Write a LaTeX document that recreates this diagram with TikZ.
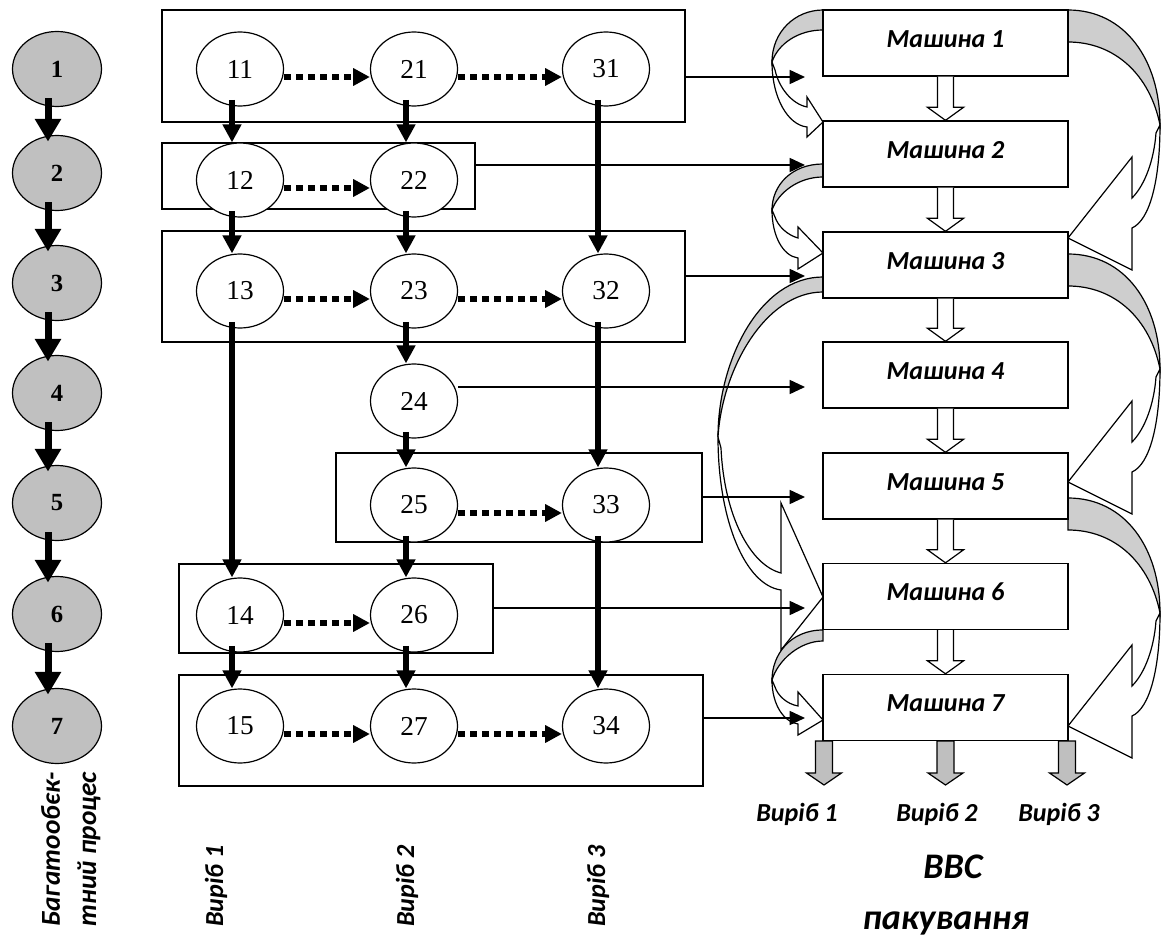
\documentclass[tikz,border=0pt]{standalone}
\usepackage{fontspec}
\setmainfont{Liberation Serif}
\newfontfamily\calfont{Carlito}
\usetikzlibrary{arrows.meta,shapes.geometric,calc}
\definecolor{ellgray}{RGB}{192,192,192}
\definecolor{bandgray}{RGB}{206,206,206}
\definecolor{outgray}{RGB}{191,191,191}
\newcommand\hollowdown[2]{\draw[hollow] ([xshift=-6pt]#1.south) -- ([xshift=-6pt,yshift=9.75pt]#2.north) -- ([xshift=-13.5pt,yshift=9.75pt]#2.north) -- (#2.north) -- ([xshift=13.5pt,yshift=9.75pt]#2.north) -- ([xshift=6pt,yshift=9.75pt]#2.north) -- ([xshift=6pt]#1.south);}
\newcommand\outarrow[1]{\draw[outar] (#1) -- ++(-17.5,-12) -- ++(9,0) -- ++(0,-32) -- ++(17,0) -- ++(0,32) -- ++(9,0) -- cycle;}
\newcommand\rightcurve[1]{%
\begin{scope}[shift={(0,#1)}]
\path[band] (1160,125) .. controls (1160,180) and (1150,220) .. (1132,228) -- (1132,270) -- (1068,238) -- (1132,157) -- (1132,198) .. controls (1145,185) and (1154,160) .. (1156,133) -- cycle;
\path[shade] (1068,10) .. controls (1125,10) and (1160,60) .. (1160,125) .. controls (1150,75) and (1115,42) .. (1068,42) -- cycle;
\end{scope}}
\begin{document}
\begin{tikzpicture}[x=0.75pt,y=-0.75pt,
  gell/.style={ellipse, draw, line width=0.9pt, fill=ellgray, minimum width=66.75pt, minimum height=56.25pt, inner sep=0pt, font=\fontsize{18.5}{18.5}\selectfont\bfseries},
  wel/.style={ellipse, draw, line width=0.9pt, fill=white, minimum width=65.25pt, minimum height=55.5pt, inner sep=0pt, font=\fontsize{20.5}{20.5}\selectfont},
  grp/.style={draw, line width=1pt, rectangle, inner sep=0pt},
  mach/.style={draw, line width=1pt, fill=white, rectangle, minimum width=183.75pt, minimum height=49.5pt, inner sep=0pt, font=\calfont\bfseries\itshape\fontsize{19.5}{19.5}\selectfont, text height=12.5pt, text depth=6pt},
  gar/.style={line width=5.25pt, -{Triangle[width=18.75pt,length=17pt]}},
  var/.style={line width=4.5pt, -{Triangle[width=13.5pt,length=13.5pt]}},
  dar/.style={line width=4pt, dash pattern=on 5.5pt off 3.5pt, -{Triangle[width=12.5pt,length=12.5pt]}},
  har/.style={line width=1.2pt, -{Triangle[width=10.5pt,length=11.5pt]}},
  hollow/.style={draw, line width=0.9pt, fill=white, line join=miter},
  outar/.style={draw, line width=0.9pt, fill=outgray},
  shade/.style={draw, line width=0.9pt, fill=bandgray},
  band/.style={draw, line width=0.9pt, fill=white},
  lbl/.style={font=\calfont\bfseries\itshape\fontsize{19.5}{19.5}\selectfont, inner sep=0pt},
  vlbl/.style={font=\calfont\bfseries\itshape\fontsize{20.5}{20.5}\selectfont, inner sep=0pt},
  big/.style={font=\calfont\bfseries\itshape\fontsize{27}{27}\selectfont, inner sep=0pt}]
\useasboundingbox (0,0) rectangle (1165,949);

% ---- curved arrows (left side)
\path[band] (718,437) .. controls (718,520) and (745,585) .. (781,590) -- (781,650) -- (823,597) -- (781,503) -- (781,573) .. controls (750,565) and (724,515) .. (721,448) -- cycle;
\path[shade] (823,277) .. controls (760,277) and (718,360) .. (718,437) .. controls (722,370) and (765,292) .. (823,292) -- cycle;
\path[band] (772,62) .. controls (772,98) and (788,125) .. (807,127) -- (807,137) -- (823,122) -- (807,97) -- (807,107) .. controls (792,104) and (779,88) .. (775,70) -- cycle;
\path[shade] (823,10) .. controls (795,10) and (772,32) .. (772,62) .. controls (778,44) and (798,30) .. (823,30) -- cycle;
\path[band] (772,210) .. controls (772,236) and (783,256) .. (798,258) -- (798,269) -- (823,253) -- (798,227) -- (798,238) .. controls (787,235) and (778,226) .. (775,217) -- cycle;
\path[shade] (823,164) .. controls (792,164) and (772,185) .. (772,210) .. controls (778,193) and (798,177) .. (823,177) -- cycle;
\path[band] (772,680) .. controls (772,705) and (784,722) .. (798,724) -- (798,735) -- (823,720) -- (798,692) -- (798,706) .. controls (787,704) and (778,696) .. (775,687) -- cycle;
\path[shade] (823,630) .. controls (790,630) and (772,655) .. (772,680) .. controls (778,660) and (800,641) .. (823,641) -- cycle;
% ---- curved arrows (right side)
\rightcurve{488}
\rightcurve{244}
\rightcurve{0}

% ---- machines
\node[mach] (m1) at (945.5,43) {Машина 1};
\node[mach] (m2) at (945.5,154) {Машина 2};
\node[mach] (m3) at (945.5,265) {Машина 3};
\node[mach] (m4) at (945.5,375) {Машина 4};
\node[mach] (m5) at (945.5,486) {Машина 5};
\node[mach] (m6) at (945.5,596.5) {Машина 6};
\node[mach] (m7) at (945.5,707.5) {Машина 7};
\hollowdown{m1}{m2}
\hollowdown{m2}{m3}
\hollowdown{m3}{m4}
\hollowdown{m4}{m5}
\hollowdown{m5}{m6}
\hollowdown{m6}{m7}
\coordinate (o1) at (824,785);
\coordinate (o2) at (945.5,785);
\coordinate (o3) at (1067,785);
\outarrow{o1}
\outarrow{o2}
\outarrow{o3}
\node[lbl, anchor=base] (v1) at (797,821) {Виріб 1};
\node[lbl, anchor=base] (v2) at (937,821) {Виріб 2};
\node[lbl, anchor=base] (v3) at (1059,821) {Виріб 3};
\node[big, anchor=base] (bbc) at (953,878) {ВВС};
\node[big, anchor=base] (pak) at (946,929) {пакування};

% ---- left process column
\node[gell] (g1) at (57,69) {1};
\node[gell] (g2) at (57,173) {2};
\node[gell] (g3) at (57,283) {3};
\node[gell] (g4) at (57,393) {4};
\node[gell] (g5) at (57,503) {5};
\node[gell] (g6) at (57,614) {6};
\node[gell] (g7) at (57,726) {7};
\foreach \a/\b in {g1/g2,g2/g3,g3/g4,g4/g5,g5/g6,g6/g7}
  \draw[gar] ([xshift=-6.75pt,yshift=6.75pt]\a.south) -- ([xshift=-6.75pt,yshift=-5pt]\b.north);
\node[vlbl, rotate=90, anchor=base west] (t1) at (60,927) {Багатообєк-};
\node[vlbl, rotate=90, anchor=base west] (t2) at (96,927) {тний процес};
\node[lbl, rotate=90, anchor=base west] (p1) at (223,927) {Виріб 1};
\node[lbl, rotate=90, anchor=base west] (p2) at (414,927) {Виріб 2};
\node[lbl, rotate=90, anchor=base west] (p3) at (605,927) {Виріб 3};

% ---- group boxes
\node[grp, minimum width=392.25pt, minimum height=84pt] (B1) at (423.5,66) {};
\node[grp, minimum width=234.75pt, minimum height=49.5pt] (B2) at (318.5,176) {};
\node[grp, minimum width=392.25pt, minimum height=83.25pt] (B3) at (423.5,286.5) {};
\node[grp, minimum width=274.5pt, minimum height=66.75pt] (B5) at (519,497.5) {};
\node[grp, minimum width=235.5pt, minimum height=66.75pt] (B6) at (336,608.5) {};
\node[grp, minimum width=393pt, minimum height=83.25pt] (B7) at (441,730.5) {};

% ---- operation nodes
\node[wel] (n11) at (240,69) {11};
\node[wel] (n21) at (414,69) {21};
\node[wel] (n31) at (606,69) {31};
\node[wel] (n12) at (240,180) {12};
\node[wel] (n22) at (414,180) {22};
\node[wel] (n13) at (240,291) {13};
\node[wel] (n23) at (414,291) {23};
\node[wel] (n32) at (606,291) {32};
\node[wel] (n24) at (414,401) {24};
\node[wel] (n25) at (414,505) {25};
\node[wel] (n33) at (606,505) {33};
\node[wel] (n14) at (240,615) {14};
\node[wel] (n26) at (414,615) {26};
\node[wel] (n15) at (240,726) {15};
\node[wel] (n27) at (414,726) {27};
\node[wel] (n34) at (606,726) {34};

\foreach \a/\b in {n11/n12,n12/n13,n13/n14,n14/n15,n21/n22,n22/n23,n23/n24,n24/n25,n25/n26,n26/n27,n31/n32,n32/n33,n33/n34}
  \draw[var] ([xshift=-6pt,yshift=5pt]\a.south) -- ([xshift=-6pt]\b.north);
\foreach \a/\b in {n11/n21,n21/n31,n12/n22,n13/n23,n23/n32,n25/n33,n14/n26,n15/n27,n27/n34}
  \draw[dar] ([yshift=-6pt]\a.east) -- ([yshift=-6pt]\b.west);

% ---- links to machines
\coordinate (e1) at (805,77);
\coordinate (e2) at (805,165);
\coordinate (e3) at (805,276);
\coordinate (e4) at (805,387);
\coordinate (e5) at (805,497);
\coordinate (e6) at (805,608);
\coordinate (e7) at (805,718);
\draw[har] (B1.east |- e1) -- (e1);
\draw[har] (B2.east |- e2) -- (e2);
\draw[har] (B3.east |- e3) -- (e3);
\draw[har] (n24.east |- e4) -- (e4);
\draw[har] (B5.east |- e5) -- (e5);
\draw[har] (B6.east |- e6) -- (e6);
\draw[har] (B7.east |- e7) -- (e7);
\end{tikzpicture}
\end{document}
